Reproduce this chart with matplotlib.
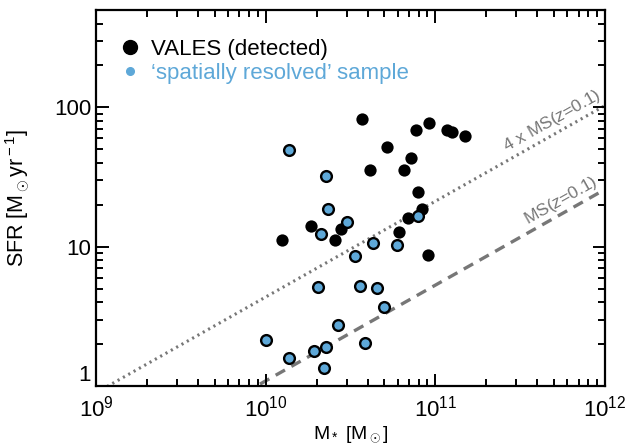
import numpy as np
import matplotlib
matplotlib.use('Agg')
import matplotlib.pyplot as plt
from matplotlib.lines import Line2D
from matplotlib.ticker import LogLocator, FixedLocator, FixedFormatter, NullFormatter

plt.rcParams['font.family'] = ['Liberation Sans', 'DejaVu Sans']
plt.rcParams['mathtext.fontset'] = 'custom'
plt.rcParams['mathtext.rm'] = 'Liberation Sans'
plt.rcParams['mathtext.it'] = 'Liberation Sans:italic'

# VALES detected galaxies (stellar mass [Msun], SFR [Msun/yr])
vales_mass = [3.69e10, 5.21e10, 4.13e10, 7.69e10, 9.21e10, 1.167e11, 1.254e11, 1.50e11,
              7.18e10, 6.53e10, 7.87e10, 8.41e10, 6.87e10, 6.12e10, 9.03e10,
              1.84e10, 1.25e10, 2.79e10, 2.55e10]
vales_sfr = [82.3, 52.1, 35.5, 69.0, 77.1, 69.0, 66.7, 62.8,
             43.5, 35.5, 24.5, 18.6, 16.2, 12.8, 8.72,
             14.1, 11.2, 13.5, 11.2]

# 'spatially resolved' sample
res_mass = [1.37e10, 2.28e10, 2.32e10, 3.00e10, 2.12e10, 4.32e10, 5.97e10, 3.37e10,
            7.89e10, 2.03e10, 3.60e10, 4.53e10, 4.98e10, 2.67e10, 1.01e10,
            1.37e10, 1.93e10, 2.27e10, 3.86e10, 2.22e10]
res_sfr = [49.6, 32.2, 18.6, 15.1, 12.3, 10.7, 10.2, 8.51,
           16.6, 5.11, 5.25, 5.02, 3.72, 2.75, 2.14,
           1.59, 1.79, 1.90, 2.04, 1.35]

# main sequence at z=0.1: log SFR = alpha (log M - 10.5) + beta
ms_alpha = 0.687
ms_beta = 0.38

blue = '#5ea8d8'
grey = '#777777'

fig = plt.figure(figsize=(6.38, 4.45), dpi=100)
ax = fig.add_axes([0.1505, 0.1326, 0.7975, 0.8449])

logm = np.linspace(8.5, 12.5, 200)
ms = 10**(ms_alpha * (logm - 10.5) + ms_beta)
ax.plot(10**logm, ms, color=grey, lw=2.4, ls=(0, (3.2, 2.2)), zorder=1)
ax.plot(10**logm, 4 * ms, color=grey, lw=2.2, ls=(0, (0.7, 1.3)), zorder=1)

ax.scatter(vales_mass, vales_sfr, s=78, color='black', edgecolor='black', lw=0, zorder=3)
ax.scatter(res_mass, res_sfr, s=60, color=blue, edgecolor='black', lw=1.7, zorder=4)

ax.set_xscale('log')
ax.set_yscale('log')
ax.set_xlim(1e9, 1e12)
ax.set_ylim(1, 500)

# labels on the MS lines
ang = 29.4
lm1 = 11.74
ax.text(10**lm1, 1.26 * 10**(ms_alpha * (lm1 - 10.5) + ms_beta), r'MS($\it{z}$=0.1)',
        color=grey, fontsize=12.5, rotation=ang, ha='center', va='center')
lm2 = 11.69
ax.text(10**lm2, 1.28 * 4 * 10**(ms_alpha * (lm2 - 10.5) + ms_beta), r'4 x MS($\it{z}$=0.1)',
        color=grey, fontsize=12.5, rotation=ang, ha='center', va='center')

ax.yaxis.set_major_locator(FixedLocator([1, 10, 100]))
ax.yaxis.set_major_formatter(FixedFormatter(['1', '10', '100']))
ax.yaxis.set_minor_locator(LogLocator(base=10, subs=np.arange(2, 10)))
ax.yaxis.set_minor_formatter(NullFormatter())
ax.xaxis.set_minor_locator(LogLocator(base=10, subs=np.arange(2, 10)))
ax.xaxis.set_minor_formatter(NullFormatter())

ax.tick_params(which='both', direction='in', top=True, right=True, width=1.4, labelsize=16)
ax.tick_params(which='major', length=9)
ax.tick_params(which='minor', length=5)
ax.tick_params(axis='x', pad=7)
for sp in ax.spines.values():
    sp.set_linewidth(1.6)
# the "1" sits above the bottom axis, as in the original
ax.yaxis.get_major_ticks()[0].label1.set_verticalalignment('bottom')

ax.set_xlabel(r'M$_*$ [M$_\odot$]', fontsize=14, labelpad=2)
ax.set_ylabel(r'SFR [M$_\odot$yr$^{\rm -1}$]', fontsize=15.5)
ax.yaxis.set_label_coords(-0.126, 0.5)

handles = [Line2D([], [], ls='none', marker='o', ms=10, color='black'),
           Line2D([], [], ls='none', marker='o', ms=5.5, color=blue)]
leg = ax.legend(handles, ['VALES (detected)', '\u2018spatially resolved\u2019 sample'],
                loc='upper left', bbox_to_anchor=(0.045, 0.934), frameon=False,
                fontsize=16, handlelength=0.6, handletextpad=0.65, labelspacing=0.13,
                borderaxespad=0, borderpad=0.2, labelcolor=['black', blue])

fig.savefig('out.png', dpi=100)
